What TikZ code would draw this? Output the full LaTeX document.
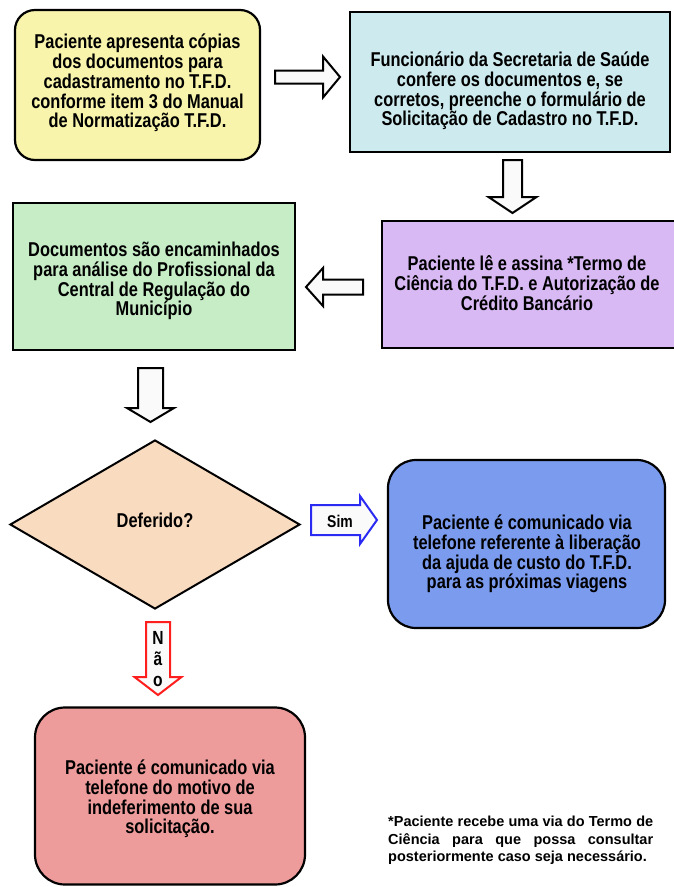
\documentclass[tikz,border=0pt]{standalone}
\usepackage{fontspec}
\newfontfamily\boxfont{Liberation Sans}[FakeStretch=0.82]
\newfontfamily\notefont{Liberation Sans}
\usetikzlibrary{shapes.geometric}
\definecolor{cyellow}{HTML}{F8F4AC}
\definecolor{ccyan}{HTML}{CDEBEE}
\definecolor{cpurple}{HTML}{D8B9F3}
\definecolor{cgreen}{HTML}{C6EDC6}
\definecolor{cpeach}{HTML}{F9DBC0}
\definecolor{cblue}{HTML}{7B9BEF}
\definecolor{cred}{HTML}{EE9B9B}
\definecolor{arrowfill}{HTML}{FAFAFA}
\definecolor{simblue}{HTML}{2A2AF2}
\definecolor{naored}{HTML}{FF1E1E}
\tikzset{
  box/.style={draw=black, line width=2.2pt, inner sep=0pt},
  rbox/.style={box, rounded corners=#1},
  btext/.style={align=center, font=\boxfont\bfseries\fontsize{20}{19.8}\selectfont, text=black},
  barrow/.style={draw=black, fill=arrowfill, line width=2pt, line join=miter},
  pics/blockarrow/.style n args={4}{code={
    \path[pic actions] (0,{-#2/2}) -- ({#1-#4},{-#2/2}) -- ({#1-#4},{-#3/2}) -- (#1,0)
      -- ({#1-#4},{#3/2}) -- ({#1-#4},{#2/2}) -- (0,{#2/2}) -- cycle;
  }},
}
\begin{document}
\begin{tikzpicture}[x=1pt, y=-1pt]
\useasboundingbox (0,0) rectangle (674,887);

% boxes
\node[rbox=20pt, fill=cyellow, minimum width=245pt, minimum height=150pt] (b1) at (137.5,85) {};
\node[btext] (t1) at (137.5,83) {Paciente apresenta cópias\\dos documentos para\\cadastramento no T.F.D.\\conforme item 3 do Manual\\de Normatização T.F.D.};

\node[box, fill=ccyan, minimum width=320pt, minimum height=140pt] (b2) at (510,82) {};
\node[btext] (t2) at (510,91) {Funcionário da Secretaria de Saúde\\confere os documentos e, se\\corretos, preenche o formulário de\\Solicitação de Cadastro no T.F.D.};

\node[box, fill=cpurple, minimum width=294pt, minimum height=127pt] (b3) at (529,284.5) {};
\node[btext] (t3) at (527,283) {Paciente lê e assina *Termo de\\Ciência do T.F.D. e Autorização de\\Crédito Bancário};

\node[box, fill=cgreen, minimum width=282pt, minimum height=147pt] (b4) at (154,276.5) {};
\node[btext] (t4) at (154,281) {Documentos são encaminhados\\para análise do Profissional da\\Central de Regulação do\\Município};

\node[draw=black, line width=2pt, fill=cpeach, diamond, minimum width=290pt, minimum height=169pt, inner sep=0pt] (d) at (155,524.5) {};
\node[btext] (td) at (155,520) {Deferido?};

\node[rbox=28pt, fill=cblue, minimum width=277pt, minimum height=168pt] (b5) at (526.5,544) {};
\node[btext] (t5) at (527,554) {Paciente é comunicado via\\telefone referente à liberação\\da ajuda de custo do T.F.D.\\para as próximas viagens};

\node[rbox=30pt, fill=cred, minimum width=270pt, minimum height=177pt] (b6) at (170,796) {};
\node[btext] (t6) at (170,799) {Paciente é comunicado via\\telefone do motivo de\\indeferimento de sua\\solicitação.};

% block arrows
\pic[barrow] at (275,77) {blockarrow={65}{13}{41}{17}};
\pic[barrow, rotate=-90] at (512.5,160) {blockarrow={53}{19}{48}{16}};
\pic[barrow, rotate=180] at (363,287) {blockarrow={57}{15}{38}{17}};
\pic[barrow, rotate=-90] at (150.5,368) {blockarrow={54}{25}{47}{14}};
\pic[barrow, draw=simblue] at (311,520) {blockarrow={66}{30}{48}{17}};
\node[font=\boxfont\bfseries\fontsize{17}{17}\selectfont] (sim) at (340,521) {Sim};
\pic[barrow, draw=naored, rotate=-90] at (158,622) {blockarrow={73}{24}{47}{18}};
\node[align=center, font=\boxfont\bfseries\fontsize{19}{21}\selectfont, inner sep=0pt] (nao) at (158,659) {N\\ã\\o};

% footnote
\node[anchor=north west, inner sep=0pt, font=\notefont\bfseries\fontsize{14.5}{17.5}\selectfont, align=left] (note) at (388,816) {%
\hbox to 265pt{*Paciente recebe uma via do Termo de}\\
\hbox to 265pt{Ciência para que possa consultar}\\
\hbox to 265pt{posteriormente caso seja necessário.\hfil}};
\end{tikzpicture}
\end{document}
